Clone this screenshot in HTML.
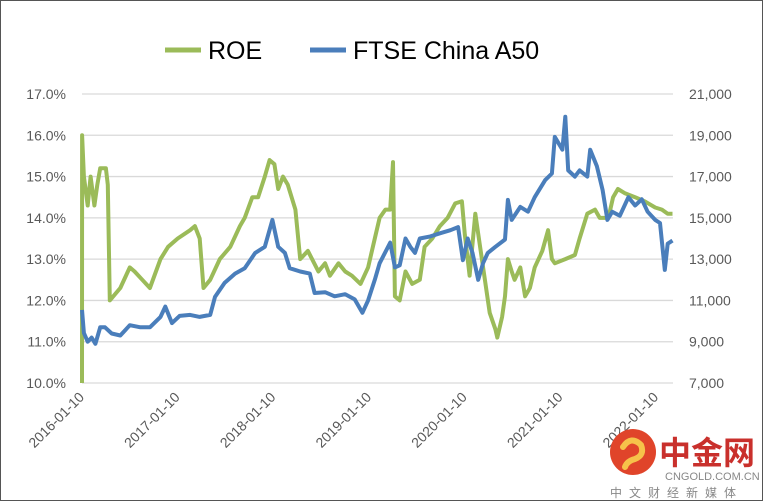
<!DOCTYPE html>
<html><head><meta charset="utf-8"><style>
html,body{margin:0;padding:0;background:#fff}
#wrap{position:relative;width:761px;height:499px;border:1px solid #555;background:#fff;overflow:hidden}
svg text{font-family:"Liberation Sans","Noto Sans CJK SC",sans-serif}
</style></head><body>
<div id="wrap">
<svg id="chart" width="761" height="499"></svg>
</div>
<script>
const roeTimes=[2016.0,2016.001,2016.02,2016.06,2016.09,2016.13,2016.16,2016.19,2016.25,2016.27,2016.29,2016.40,2016.50,2016.55,2016.63,2016.71,2016.82,2016.90,2017.00,2017.13,2017.18,2017.23,2017.27,2017.34,2017.44,2017.55,2017.65,2017.70,2017.78,2017.84,2017.91,2017.96,2018.01,2018.05,2018.10,2018.15,2018.23,2018.28,2018.36,2018.47,2018.54,2018.59,2018.68,2018.75,2018.82,2018.91,2018.99,2019.06,2019.11,2019.17,2019.22,2019.25,2019.27,2019.32,2019.38,2019.45,2019.53,2019.58,2019.66,2019.74,2019.82,2019.90,2019.97,2020.00,2020.05,2020.11,2020.16,2020.21,2020.26,2020.32,2020.34,2020.39,2020.42,2020.45,2020.49,2020.52,2020.58,2020.63,2020.68,2020.73,2020.81,2020.87,2020.91,2020.94,2021.05,2021.15,2021.20,2021.28,2021.36,2021.41,2021.50,2021.55,2021.60,2021.67,2021.78,2021.88,2021.99,2022.06,2022.12,2022.17];
const roeValues=[10.0,16.0,15.0,14.3,15.0,14.3,14.8,15.2,15.2,14.8,12.0,12.3,12.8,12.7,12.5,12.3,13.0,13.3,13.5,13.7,13.8,13.5,12.3,12.5,13.0,13.3,13.8,14.0,14.5,14.5,15.0,15.4,15.3,14.7,15.0,14.8,14.2,13.0,13.2,12.7,12.9,12.6,12.9,12.7,12.6,12.4,12.8,13.5,14.0,14.2,14.2,15.35,12.1,12.0,12.7,12.4,12.5,13.3,13.5,13.8,14.0,14.35,14.4,13.6,12.6,14.1,13.3,12.5,11.7,11.3,11.1,11.6,12.1,13.0,12.7,12.5,12.8,12.1,12.3,12.8,13.2,13.7,13.0,12.9,13.0,13.1,13.5,14.1,14.2,14.0,14.0,14.5,14.7,14.6,14.5,14.4,14.25,14.2,14.1,14.1];
const idxTimes=[2016.0,2016.02,2016.06,2016.10,2016.14,2016.19,2016.24,2016.31,2016.40,2016.50,2016.61,2016.71,2016.82,2016.87,2016.94,2017.02,2017.13,2017.23,2017.34,2017.39,2017.49,2017.60,2017.70,2017.81,2017.91,2017.99,2018.05,2018.12,2018.17,2018.28,2018.38,2018.43,2018.54,2018.64,2018.75,2018.85,2018.93,2018.99,2019.06,2019.11,2019.22,2019.27,2019.32,2019.38,2019.43,2019.48,2019.53,2019.64,2019.74,2019.85,2019.93,2019.98,2020.03,2020.08,2020.14,2020.19,2020.24,2020.32,2020.42,2020.45,2020.49,2020.58,2020.66,2020.73,2020.84,2020.91,2020.94,2021.02,2021.05,2021.08,2021.15,2021.20,2021.28,2021.31,2021.38,2021.44,2021.49,2021.54,2021.62,2021.71,2021.78,2021.85,2021.91,2021.99,2022.04,2022.09,2022.12,2022.17];
const idxValues=[10540,9420,9000,9200,8900,9700,9700,9400,9300,9800,9700,9700,10200,10700,9900,10250,10300,10200,10300,11170,11850,12300,12560,13300,13600,14900,13600,13300,12560,12400,12300,11360,11400,11200,11300,11050,10400,11000,12000,12800,13800,12600,12700,14000,13600,13300,14000,14100,14250,14400,14550,12950,14000,13300,12000,12800,13300,13600,13950,15870,14900,15530,15300,16000,16830,17150,18920,18300,19900,17300,17000,17300,17000,18300,17500,16350,14900,15300,15100,16000,15600,15900,15300,14900,14750,12480,13750,13900];
const leftTicks=["10.0%","11.0%","12.0%","13.0%","14.0%","15.0%","16.0%","17.0%"];
const rightTicks=["7,000","9,000","11,000","13,000","15,000","17,000","19,000","21,000"];
const xTickLabels=["2016-01-10","2017-01-10","2018-01-10","2019-01-10","2020-01-10","2021-01-10","2022-01-10"];
const xTickYears=[2016,2017,2018,2019,2020,2021,2022];

const NS="http://www.w3.org/2000/svg";
const svg=document.getElementById('chart');
function el(t,a,p){const e=document.createElementNS(NS,t);for(const k in a)e.setAttribute(k,a[k]);(p||svg).appendChild(e);return e;}
const X0=81,PX=95.7,YT=93,YB=382;
const xs=t=>X0+(t-2016)*PX;
const yL=v=>YB-(v-10)/7*(YB-YT);
const yR=v=>YB-(v-7000)/14000*(YB-YT);

leftTicks.forEach((lab,i)=>{
  const y=YB-i*(YB-YT)/7;
  const g=el('line',{x1:X0,x2:672,y1:y,y2:y,stroke:'#d9d9d9','stroke-width':1.3});
  
  
  const t=el('text',{x:65,y:y+5,'text-anchor':'end','font-size':14,fill:'#595959'});t.textContent=lab;
  
  
  const r=el('text',{x:688,y:y+5,'font-size':14,fill:'#595959'});r.textContent=rightTicks[i];
  
  
});
xTickLabels.forEach((lab,i)=>{
  const x=xs(xTickYears[i]);
  const t=el('text',{x:x+3,y:397,'text-anchor':'end','font-size':14,fill:'#595959',transform:`rotate(-45 ${x+3} 397)`});t.textContent=lab;
  
  
});
function series(times,vals,yf,color,name){
  const d=times.map((t,i)=>(i?'L':'M')+xs(t).toFixed(1)+','+yf(vals[i]).toFixed(1)).join('');
  const p=el('path',{d:d,fill:'none',stroke:color,'stroke-width':4,'stroke-linejoin':'round'});
  
  
}
series(roeTimes,roeValues,yL,'#9bbb59','roe-line');
series(idxTimes,idxValues,yR,'#4a7ebb','ftse-china-a50-line');

// legend
const lg=el('g',{});


el('line',{x1:164,x2:200,y1:49,y2:49,stroke:'#9bbb59','stroke-width':5},lg);
const t1=el('text',{x:207,y:58,'font-size':25,fill:'#000'},lg);t1.textContent='ROE';


el('line',{x1:309,x2:345,y1:49,y2:49,stroke:'#4a7ebb','stroke-width':5},lg);
const t2=el('text',{x:352,y:58,'font-size':25,fill:'#000'},lg);t2.textContent='FTSE China A50';



// watermark
const wm=el('g',{});


el('circle',{cx:632,cy:451,r:23,fill:'#e0442a'},wm);
el('path',{d:'M622,446 q8,-12 18,-2 q4,10 -6,14 q-8,2 -10,8',fill:'none',stroke:'#f6c24a','stroke-width':6,'stroke-linecap':'round'},wm);
const w1=el('text',{x:658,y:463,'font-size':32,fill:'#c9302c','font-weight':'bold','font-family':'"Noto Sans CJK SC",sans-serif'},wm);w1.textContent='中金网';
const w2=el('text',{x:664,y:479,'font-size':11,fill:'#888'},wm);w2.textContent='CNGOLD.COM.CN';
const w3=el('text',{x:609,y:496,'font-size':12,fill:'#888','letter-spacing':'7','font-family':'"Noto Sans CJK SC",sans-serif'},wm);w3.textContent='中文财经新媒体';
</script>
</body></html>
